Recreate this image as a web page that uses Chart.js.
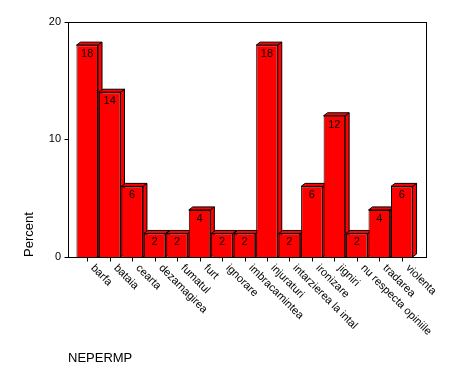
<!DOCTYPE html>
<html>
<head>
<meta charset="utf-8">
<script src="https://cdn.jsdelivr.net/npm/chart.js@4"></script>
<style>
  html, body { margin: 0; padding: 0; background: #fff; }
  #chart { display: block; }
</style>
</head>
<body>
<canvas id="chart" width="474" height="379"></canvas>
<script>
// Chart data
const categories = ["barfa", "bataia", "cearta", "dezamagirea", "fumatul", "furt", "ignorare",
  "imbracamintea", "injuraturi", "intarzierea la intal", "ironizare", "jigniri",
  "nu respecta opiniile", "tradarea", "violenta"]
const percents = [18, 14, 6, 2, 2, 4, 2, 2, 18, 2, 6, 12, 2, 4, 6]
const yTicks = [0, 10, 20]
const xTitle = "NEPERMP"
const yTitle = "Percent"

const FONT = "Arial, 'Liberation Sans', sans-serif"
const RED = "#ff0000"

// frame sits a bit outside the category band
const frame = { left: 68.5, right: 426.5 }
const depth = { x: 4, y: 3 }

// 3d side and top faces, drawn under the bar fronts
const bar3d = {
  id: "bar3d",
  beforeDatasetsDraw(chart) {
    const ctx = chart.ctx
    const meta = chart.getDatasetMeta(0)
    ctx.save()
    ctx.fillStyle = RED
    ctx.strokeStyle = "#000"
    ctx.lineWidth = 1
    meta.data.forEach((bar) => {
      const p = bar.getProps(["x", "y", "base", "width"], true)
      const l = p.x - p.width / 2
      const r = p.x + p.width / 2
      const t = p.y
      const b = p.base
      ctx.beginPath()
      ctx.moveTo(r, t)
      ctx.lineTo(r + depth.x, t - depth.y)
      ctx.lineTo(r + depth.x, b - depth.y)
      ctx.lineTo(r, b)
      ctx.closePath()
      ctx.fill()
      ctx.stroke()
      ctx.beginPath()
      ctx.moveTo(l, t)
      ctx.lineTo(l + depth.x, t - depth.y)
      ctx.lineTo(r + depth.x, t - depth.y)
      ctx.lineTo(r, t)
      ctx.closePath()
      ctx.fill()
      ctx.stroke()
    })
    ctx.restore()
  },
  afterDatasetsDraw(chart) {
    const ctx = chart.ctx
    const meta = chart.getDatasetMeta(0)
    ctx.save()
    ctx.fillStyle = "#000"
    ctx.font = "11px " + FONT
    ctx.textAlign = "center"
    ctx.textBaseline = "middle"
    meta.data.forEach((bar, i) => {
      ctx.fillText(String(percents[i]), bar.x, bar.y + 9)
    })
    ctx.restore()
  },
  afterDraw(chart) {
    const ctx = chart.ctx
    const area = chart.chartArea
    const xs = chart.scales.x
    const ys = chart.scales.y
    const top = Math.round(area.top) + 0.5
    const bottom = Math.round(area.bottom) + 0.5
    ctx.save()
    ctx.strokeStyle = "#000"
    ctx.lineWidth = 1
    ctx.strokeRect(frame.left, top, frame.right - frame.left, bottom - top)

    // y tick marks
    yTicks.forEach((v) => {
      const y = Math.round(ys.getPixelForValue(v)) + 0.5
      ctx.beginPath()
      ctx.moveTo(frame.left - 4, y)
      ctx.lineTo(frame.left, y)
      ctx.stroke()
    })

    // x tick marks and slanted labels
    ctx.fillStyle = "#000"
    ctx.font = "11px " + FONT
    ctx.textAlign = "left"
    ctx.textBaseline = "top"
    categories.forEach((c, i) => {
      const x = Math.round(xs.getPixelForValue(i)) + 0.5
      ctx.beginPath()
      ctx.moveTo(x, bottom)
      ctx.lineTo(x, bottom + 4)
      ctx.stroke()
      ctx.save()
      ctx.translate(x + 9, bottom + 5)
      ctx.rotate(Math.PI / 4)
      ctx.fillText(c, 0, 0)
      ctx.restore()
    })

    // x axis title
    ctx.font = "13px " + FONT
    ctx.textBaseline = "middle"
    ctx.fillText(xTitle, 68, 358)
    ctx.restore()
  }
}

new Chart(document.getElementById("chart"), {
  type: "bar",
  data: {
    labels: categories,
    datasets: [{
      data: percents,
      backgroundColor: RED,
      borderColor: "#000",
      borderWidth: 1,
      barPercentage: 0.96,
      categoryPercentage: 1.0,
    }],
  },
  options: {
    responsive: false,
    animation: false,
    devicePixelRatio: 1,
    layout: { padding: { left: 0, top: 19, right: 61, bottom: 0 } },
    plugins: {
      legend: { display: false },
      tooltip: { enabled: false },
    },
    scales: {
      x: {
        grid: { display: false, drawTicks: false },
        border: { display: false },
        ticks: { display: false },
        afterFit: (s) => { s.height = 122 },
      },
      y: {
        min: 0,
        max: 20,
        afterBuildTicks: (s) => { s.ticks = yTicks.map((v) => ({ value: v })) },
        afterFit: (s) => { s.width = 76 },
        grid: { display: false, drawTicks: false },
        border: { display: false },
        ticks: {
          color: "#000",
          padding: 15,
          font: { family: FONT, size: 11 },
        },
        title: {
          display: true,
          text: yTitle,
          align: "start",
          color: "#000",
          font: { family: FONT, size: 13 },
          padding: { top: 22, bottom: 0 },
        },
      },
    },
  },
  plugins: [bar3d],
})
</script>
</body>
</html>
